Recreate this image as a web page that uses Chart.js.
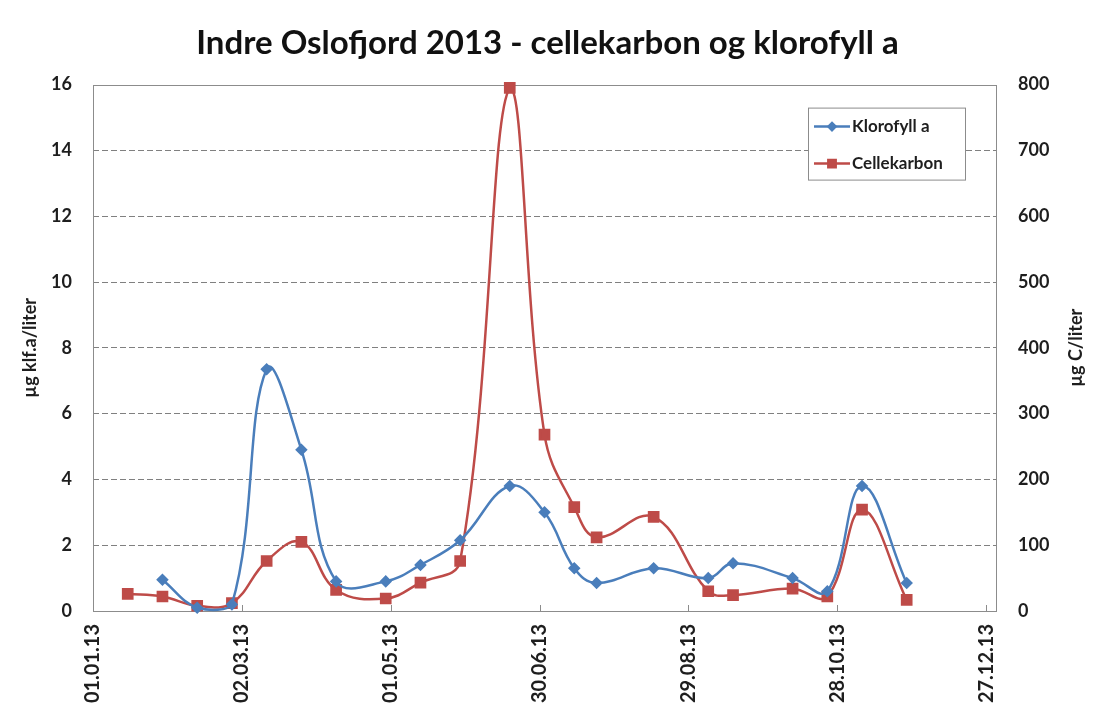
<!DOCTYPE html>
<html>
<head>
<meta charset="utf-8">
<script src="https://cdn.jsdelivr.net/npm/chart.js"></script>
<style>
  body { margin: 0; background: #fff; }
  #wrap { width: 1095px; height: 718px; }
</style>
</head>
<body>
<div id="wrap"><canvas id="myChart" width="1095" height="718"></canvas></div>

<script>
  // sampling dates and measured values
  const sampleDates = ['15.01.13', '29.01.13', '12.02.13', '26.02.13', '12.03.13', '26.03.13', '09.04.13',
    '29.04.13', '13.05.13', '29.05.13', '18.06.13', '02.07.13', '14.07.13', '23.07.13', '15.08.13',
    '06.09.13', '16.09.13', '10.10.13', '24.10.13', '07.11.13', '25.11.13'];
  const klorofyll = [null, 0.95, 0.1, 0.2, 7.35, 4.9, 0.9, 0.9, 1.4, 2.15, 3.8, 3.0, 1.3, 0.85, 1.3,
    1.0, 1.45, 1.0, 0.6, 3.8, 0.85];                 // µg klf.a/liter
  const cellekarbon = [26, 22, 8, 12, 76, 105, 32, 19, 43, 76, 795, 268, 158, 112, 143,
    30, 24, 34, 22, 154, 17];                        // µg C/liter

  const dateTicksEvery = 60;   // days between x labels
  const leftTicks = [0, 16, 2];
  const rightTicks = [0, 800, 100];

  const BLUE = '#4a7ebb';
  const RED = '#be4b48';
  const GRID = '#808080';
  const TEXT = '#1e1e1e';

  Chart.defaults.font.family = 'Lato, "Open Sans", sans-serif';
  Chart.defaults.color = TEXT;

  function dayOfYear(s) {
    const [d, m, y] = s.split('.').map(Number);
    return (Date.UTC(2000 + y, m - 1, d) - Date.UTC(2000 + y, 0, 1)) / 86400000;
  }
  function pad(n) { return String(n).padStart(2, '0'); }
  function dayLabel(v) {
    const dt = new Date(Date.UTC(2013, 0, 1) + v * 86400000);
    return pad(dt.getUTCDate()) + '.' + pad(dt.getUTCMonth() + 1) + '.' + String(dt.getUTCFullYear()).slice(2);
  }
  function points(values) {
    return sampleDates.map((d, i) => ({ x: dayOfYear(d), y: values[i] })).filter(p => p.y !== null);
  }

  // plot frame and small inside tick marks on the date axis
  const frame = {
    id: 'frame',
    beforeDatasetsDraw(chart) {
      const { ctx, chartArea: a, scales: { x } } = chart;
      ctx.save();
      ctx.strokeStyle = '#8c8c8c';
      ctx.lineWidth = 1;
      ctx.strokeRect(Math.round(a.left) + 0.5, Math.round(a.top) + 0.5,
        Math.round(a.right - a.left), Math.round(a.bottom - a.top));
      ctx.beginPath();
      x.ticks.forEach(t => {
        const px = Math.round(x.getPixelForValue(t.value)) + 0.5;
        ctx.moveTo(px, a.bottom);
        ctx.lineTo(px, a.bottom - 6);
      });
      ctx.stroke();
      ctx.restore();
    }
  };

  // right axis title, reading bottom to top like the left one
  const rightTitle = {
    id: 'rightTitle',
    afterDraw(chart) {
      const { ctx, chartArea: a } = chart;
      ctx.save();
      ctx.translate(1076, (a.top + a.bottom) / 2);
      ctx.rotate(-Math.PI / 2);
      ctx.font = 'bold 18px Lato, sans-serif';
      ctx.fillStyle = TEXT;
      ctx.textAlign = 'center';
      ctx.textBaseline = 'middle';
      ctx.fillText('µg C/liter', 0, 0);
      ctx.restore();
    }
  };

  // legend box inside the plot, top right
  const boxLegend = {
    id: 'boxLegend',
    afterDraw(chart) {
      const { ctx, chartArea: a } = chart;
      const w = 157, h = 72;
      const bx = a.right - 31 - w, by = a.top + 23;
      ctx.save();
      ctx.fillStyle = '#fff';
      ctx.fillRect(bx, by, w, h);
      ctx.strokeStyle = '#8c8c8c';
      ctx.lineWidth = 1;
      ctx.strokeRect(bx + 0.5, by + 0.5, w, h);
      ctx.font = 'bold 17px Lato, sans-serif';
      ctx.textBaseline = 'middle';
      chart.data.datasets.forEach((ds, i) => {
        const y = by + 19 + i * 37;
        ctx.strokeStyle = ds.borderColor;
        ctx.lineWidth = 2.5;
        ctx.beginPath();
        ctx.moveTo(bx + 6, y);
        ctx.lineTo(bx + 42, y);
        ctx.stroke();
        Chart.helpers.drawPoint(ctx, {
          pointStyle: ds.pointStyle, radius: ds.pointRadius * 0.8, borderWidth: 1
        }, bx + 24, y);
        ctx.fillStyle = ds.pointBackgroundColor;
        ctx.strokeStyle = ds.borderColor;
        ctx.fill();
        ctx.fillStyle = TEXT;
        ctx.fillText(ds.label, bx + 44, y);
      });
      ctx.restore();
    }
  };

  var ctx = document.getElementById('myChart').getContext('2d');
  var myChart = new Chart(ctx, {
    type: 'line',
    data: {
      datasets: [{
        label: 'Klorofyll a',
        data: points(klorofyll),
        yAxisID: 'y',
        borderColor: BLUE,
        backgroundColor: BLUE,
        pointBackgroundColor: BLUE,
        pointBorderColor: BLUE,
        pointStyle: 'rectRot',
        pointRadius: 4.5,
        borderWidth: 2.5,
        tension: 0.4,
        clip: 8
      }, {
        label: 'Cellekarbon',
        data: points(cellekarbon),
        yAxisID: 'y1',
        borderColor: RED,
        backgroundColor: RED,
        pointBackgroundColor: RED,
        pointBorderColor: RED,
        pointStyle: 'rect',
        pointRadius: 6.5,
        borderWidth: 2.5,
        tension: 0.4,
        clip: 8
      }]
    },
    options: {
      responsive: false,
      animation: false,
      layout: { padding: 0 },
      scales: {
        x: {
          type: 'linear',
          min: 0,
          max: 364,
          afterFit: s => { s.height = 107; },
          afterBuildTicks: s => { s.ticks = s.ticks.filter(t => t.value % dateTicksEvery === 0); },
          ticks: {
            stepSize: dateTicksEvery,
            includeBounds: false,
            minRotation: 90,
            maxRotation: 90,
            padding: 13,
            autoSkip: false,
            font: { size: 20, weight: 'bold' },
            callback: v => dayLabel(v)
          },
          grid: { display: false, drawTicks: false },
          border: { display: false }
        },
        y: {
          position: 'left',
          min: leftTicks[0],
          max: leftTicks[1],
          afterFit: s => { s.width = 93; },
          ticks: { stepSize: leftTicks[2], padding: 21, font: { size: 18, weight: 'bold' } },
          title: {
            display: true,
            text: 'µg klf.a/liter',
            padding: { top: 19, bottom: 0 },
            font: { size: 18, weight: 'bold' }
          },
          grid: {
            drawTicks: false,
            lineWidth: 1,
            color: c => (c.tick && (c.tick.value === 0 || c.tick.value === 16)) ? 'rgba(0,0,0,0)' : GRID
          },
          border: { display: false, dash: [6, 3] }
        },
        y1: {
          position: 'right',
          min: rightTicks[0],
          max: rightTicks[1],
          afterFit: s => { s.width = 99; },
          ticks: { stepSize: rightTicks[2], padding: 22, font: { size: 18, weight: 'bold' } },
          grid: { drawOnChartArea: false, drawTicks: false },
          border: { display: false }
        }
      },
      plugins: {
        legend: { display: false },
        tooltip: { enabled: false },
        title: {
          display: true,
          text: 'Indre Oslofjord 2013 - cellekarbon og klorofyll a',
          color: '#111',
          font: { size: 33, weight: 'bold' },
          padding: { top: 24, bottom: 21 }
        }
      }
    },
    plugins: [frame, rightTitle, boxLegend]
  });
</script>
</body>
</html>
